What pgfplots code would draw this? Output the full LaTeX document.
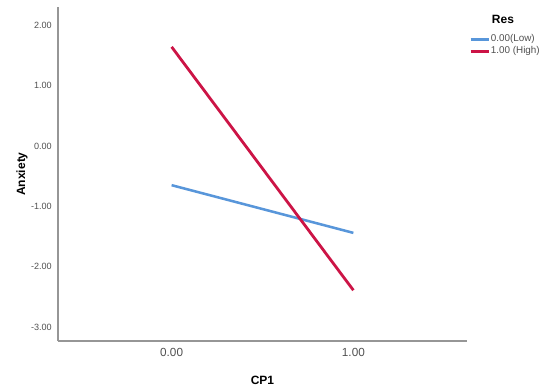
\documentclass[border=0pt]{standalone}
\usepackage{fontspec}
\setmainfont{Liberation Sans}
\usepackage{pgfplots}
\pgfplotsset{compat=1.18}
\definecolor{lowblue}{RGB}{88,150,218}
\definecolor{highred}{RGB}{204,20,70}
\definecolor{axgray}{RGB}{150,150,150}
\definecolor{txtgray}{RGB}{80,80,80}
\begin{document}
\begin{tikzpicture}[x=0.75pt,y=0.75pt]
\begin{axis}[
    width=306.75pt, height=250.5pt, scale only axis,
    clip=false,
    xmin=-0.625, xmax=1.625,
    ymin=-3.23, ymax=2.30,
    axis lines*=left,
    axis line style={-, axgray, line width=1pt},
    major tick length=0pt,
    xtick={0,1}, xticklabels={0.00,1.00},
    ytick={-3,-2,-1,0,1,2},
    yticklabels={-3.00,-2.00,-1.00,0.00,1.00,2.00},
    xticklabel style={font=\fontsize{8.8}{10}\selectfont, text=txtgray, inner sep=0pt, yshift=-5.2pt},
    yticklabel style={font=\fontsize{6.8}{8}\selectfont, text=txtgray, inner sep=0pt, xshift=-4.5pt},
    xlabel={CP1}, ylabel={Anxiety},
    xlabel style={font=\bfseries\fontsize{9}{10}\selectfont, at={(axis description cs:0.5,-0.117)}, anchor=center},
    ylabel style={font=\bfseries\fontsize{9}{10}\selectfont, at={(axis description cs:-0.088,0.5)}, anchor=center},
    legend style={at={(rel axis cs:1.005,0.92)}, anchor=north west, draw=none, fill=none,
        font=\fontsize{7.4}{8}\selectfont, text=txtgray, inner sep=0pt, row sep=0.8pt,
        nodes={inner sep=0.6pt}},
    legend cell align=left,
    legend image code/.code={\draw[#1] (0pt,0pt) -- (13.5pt,0pt);},
]
\addplot[lowblue, line width=1.9pt] coordinates {(0,-0.65) (1,-1.44)};
\addlegendentry{0.00(Low)}
\addplot[highred, line width=2.1pt] coordinates {(0,1.64) (1,-2.39)};
\addlegendentry{1.00 (High)}
\coordinate (SW) at (rel axis cs:0,0);
\node[font=\bfseries\fontsize{9}{10}\selectfont] at (rel axis cs:1.088,0.964) {Res};
\end{axis}
\pgfresetboundingbox
\path[use as bounding box] (SW) ++(-58,-49) rectangle ++(550,390);
\end{tikzpicture}
\end{document}
